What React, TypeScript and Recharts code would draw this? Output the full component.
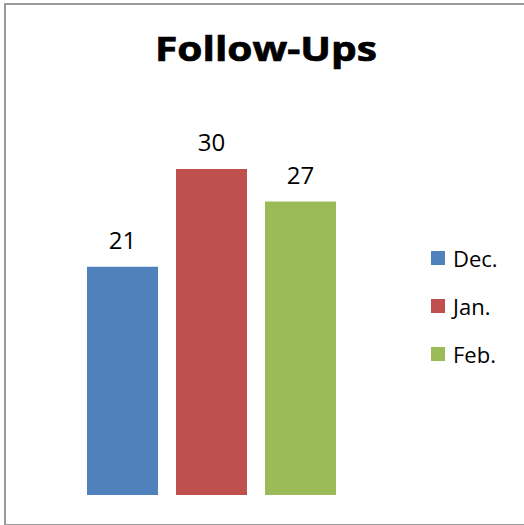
import { BarChart, Bar, XAxis, YAxis, Legend, LabelList } from "recharts";

const title = "Follow-Ups";
const months = ["Dec.", "Jan.", "Feb."];
const followUps = [21, 30, 27];
const colors = ["#4F81BD", "#C0504D", "#9BBB59"];

const keys = ["dec", "jan", "feb"];
const row: Record<string, string | number> = { name: title };
keys.forEach((k, i) => {
  row[k] = followUps[i];
});
const data = [row];

const font = "'Open Sans', sans-serif";

function LegendBox(props: any) {
  const items = [...(props.payload || [])].sort(
    (a: any, b: any) => months.indexOf(a.value) - months.indexOf(b.value)
  );
  return (
    <div style={{ fontFamily: font, fontSize: 22, color: "#000" }}>
      {items.map((p: any, i: number) => (
        <div key={i} style={{ height: 48, display: "flex", alignItems: "center" }}>
          <span style={{ width: 14, height: 14, background: p.color, display: "inline-block", marginRight: 8 }} />
          <span>{p.value}</span>
        </div>
      ))}
    </div>
  );
}

export default function App() {
  return (
    <div style={{ position: "absolute", left: 0, top: 0, width: 524, height: 525, overflow: "hidden", background: "#fff" }}>
      <div
        style={{
          position: "absolute",
          left: 4,
          top: 3,
          width: 540,
          height: 519,
          border: "2px solid #9a9a9a",
        }}
      />
      <svg width={524} height={90} style={{ position: "absolute", left: 0, top: 0 }}>
        <text
          x={155}
          y={61}
          textLength={222}
          lengthAdjust="spacingAndGlyphs"
          fontFamily={font}
          fontWeight="bold"
          fontSize={34}
          fill="#000"
          stroke="#000"
          strokeWidth={0.7}
        >
          {title}
        </text>
      </svg>
      <div style={{ position: "absolute", left: 0, top: 0 }}>
        <BarChart
          width={524}
          height={525}
          data={data}
          margin={{ top: 169, right: 97, bottom: 30, left: 85 }}
          barGap={18}
          barSize={71}
        >
          <XAxis dataKey="name" hide />
          <YAxis hide domain={[0, 30]} />
          <Legend
            layout="horizontal"
            verticalAlign="middle"
            align="right"
            content={<LegendBox />}
            wrapperStyle={{ left: 431, top: 234, width: 90 }}
          />
          {keys.map((k, i) => (
            <Bar key={k} dataKey={k} name={months[i]} fill={colors[i]} isAnimationActive={false}>
              <LabelList
                dataKey={k}
                position="top"
                offset={18}
                fontFamily={font}
                fontSize={24}
                fill="#000"
              />
            </Bar>
          ))}
        </BarChart>
      </div>
    </div>
  );
}
